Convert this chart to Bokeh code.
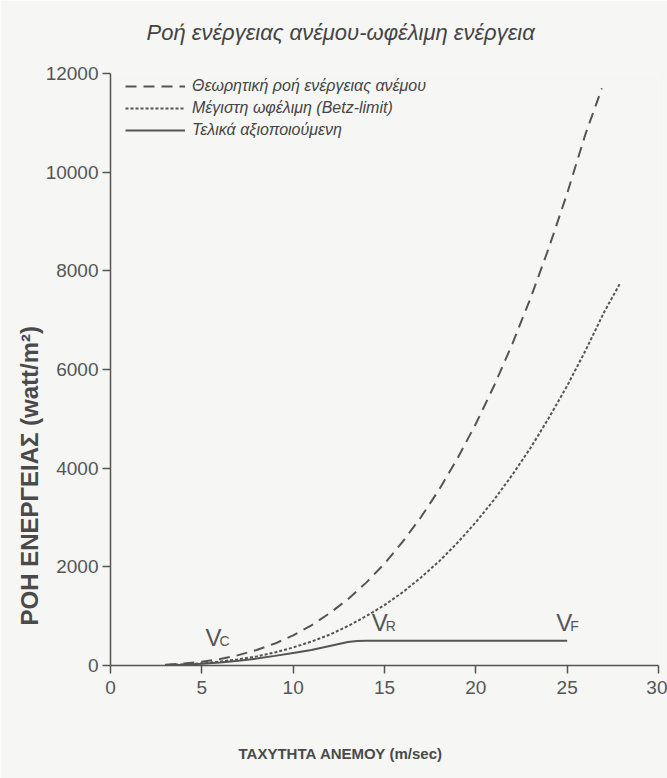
from bokeh.plotting import figure
from bokeh.models import Range1d, FixedTicker, Legend, LegendItem, Title
from bokeh.core.properties import value
from bokeh.embed import file_html
from bokeh.resources import INLINE

# ---- data ----
speed_theory = [3, 4, 5, 6, 7, 8, 9, 10, 11, 12, 13, 14, 15, 16, 17, 18, 19, 20,
                21, 22, 23, 24, 25, 26, 26.9]
power_theory = [15, 40, 75, 130, 210, 315, 445, 610, 815, 1060, 1345, 1680, 2065,
                2510, 3010, 3570, 4200, 4900, 5670, 6520, 7450, 8470, 9570, 10770, 11700]

speed_betz = [3, 4, 5, 6, 7, 8, 9, 10, 11, 12, 13, 14, 15, 16, 17, 18, 19, 20,
              21, 22, 23, 24, 25, 26, 27, 27.9]
power_betz = [10, 25, 45, 80, 125, 185, 265, 365, 485, 625, 800, 1000, 1225, 1485,
              1785, 2115, 2490, 2905, 3360, 3865, 4415, 5020, 5670, 6380, 7145, 7750]

speed_used = [3, 4, 5, 6, 7, 8, 9, 10, 11, 12, 12.5, 13, 13.5, 14, 25]
power_used = [5, 15, 35, 60, 95, 140, 195, 255, 315, 395, 435, 475, 495, 500, 500]

x_ticks = [0, 5, 10, 15, 20, 25, 30]
y_ticks = [0, 2000, 4000, 6000, 8000, 10000, 12000]

series_names = ["Θεωρητική ροή ενέργειας ανέμου",
                "Μέγιστη ωφέλιμη (Betz-limit)",
                "Τελικά αξιοποιούμενη"]

v_main = ["V", "V", "V"]
v_sub = ["C", "R", "F"]
v_x = [5.2, 14.3, 24.4]
v_y = [560, 870, 870]

title_text = "Ροή ενέργειας ανέμου-ωφέλιμη ενέργεια"
x_label = "ΤΑΧΥΤΗΤΑ ΑΝΕΜΟΥ (m/sec)"
y_label = "ΡΟΗ ΕΝΕΡΓΕΙΑΣ (watt/m²)"

# ---- figure ----
INK = "#555555"
BG = "#f6f6f4"
FONT = "Liberation Sans"

p = figure(width=667, height=778, output_backend="svg", toolbar_location=None,
           title=None, x_range=Range1d(0, 30), y_range=Range1d(0, 12000),
           min_border_left=110, min_border_right=9, min_border_top=73,
           min_border_bottom=113, background_fill_color=BG, border_fill_color=BG,
           outline_line_color=None)

p.grid.visible = False

for ax in (p.xaxis[0], p.yaxis[0]):
    ax.axis_line_color = INK
    ax.axis_line_width = 1.5
    ax.major_tick_line_color = INK
    ax.major_tick_line_width = 1.5
    ax.major_tick_in = 0
    ax.major_tick_out = 8
    ax.minor_tick_line_color = None
    ax.major_label_text_font = FONT
    ax.major_label_text_font_size = "19px"
    ax.major_label_text_color = "#555555"

p.xaxis.major_label_standoff = 7
p.yaxis.major_label_standoff = 4
p.xaxis.ticker = FixedTicker(ticks=x_ticks)
p.yaxis.ticker = FixedTicker(ticks=y_ticks)

# spacer + title above
p.add_layout(Title(text=" ", text_font_size="24px", standoff=0,
                   text_color=BG), "above")
p.add_layout(Title(text=title_text, text_font=FONT, text_font_style="italic",
                   text_font_size="22px", text_color="#444444", align="left",
                   offset=36, standoff=0), "above")

# spacer + x label below
p.add_layout(Title(text=" ", text_font_size="40px", standoff=0,
                   text_color=BG), "below")
p.add_layout(Title(text=x_label, text_font=FONT, text_font_style="bold",
                   text_font_size="15px", text_color="#4a4a4a", align="left",
                   offset=128, standoff=0), "below")

# y label left
p.add_layout(Title(text=y_label, text_font=FONT, text_font_style="bold",
                   text_font_size="24px", text_color="#4a4a4a", align="left",
                   offset=40, standoff=0), "left")

r1 = p.line(speed_theory, power_theory, line_color=INK, line_width=2, line_dash="11 7")
r2 = p.line(speed_betz, power_betz, line_color=INK, line_width=2, line_dash="3 2")
r3 = p.line(speed_used, power_used, line_color=INK, line_width=2)

legend = Legend(items=[LegendItem(label=series_names[0], renderers=[r1]),
                       LegendItem(label=series_names[1], renderers=[r2]),
                       LegendItem(label=series_names[2], renderers=[r3])],
                location=(15, 524), glyph_width=60, glyph_height=22, spacing=0,
                label_standoff=7, padding=0, margin=0,
                background_fill_alpha=0, border_line_color=None,
                label_text_font=FONT, label_text_font_style="italic",
                label_text_font_size="16px", label_text_color="#444444")
p.add_layout(legend)

p.text(x=v_x, y=v_y, text=v_main, text_font=value(FONT), text_font_size="24px",
       text_color=INK, text_baseline="alphabetic", text_align="left")
p.text(x=v_x, y=v_y, text=v_sub, text_font=value(FONT), text_font_size="14px",
       text_color=INK, text_baseline="top", text_align="left",
       x_offset=14, y_offset=-5)

open("out.html", "w").write(file_html(p, INLINE))
